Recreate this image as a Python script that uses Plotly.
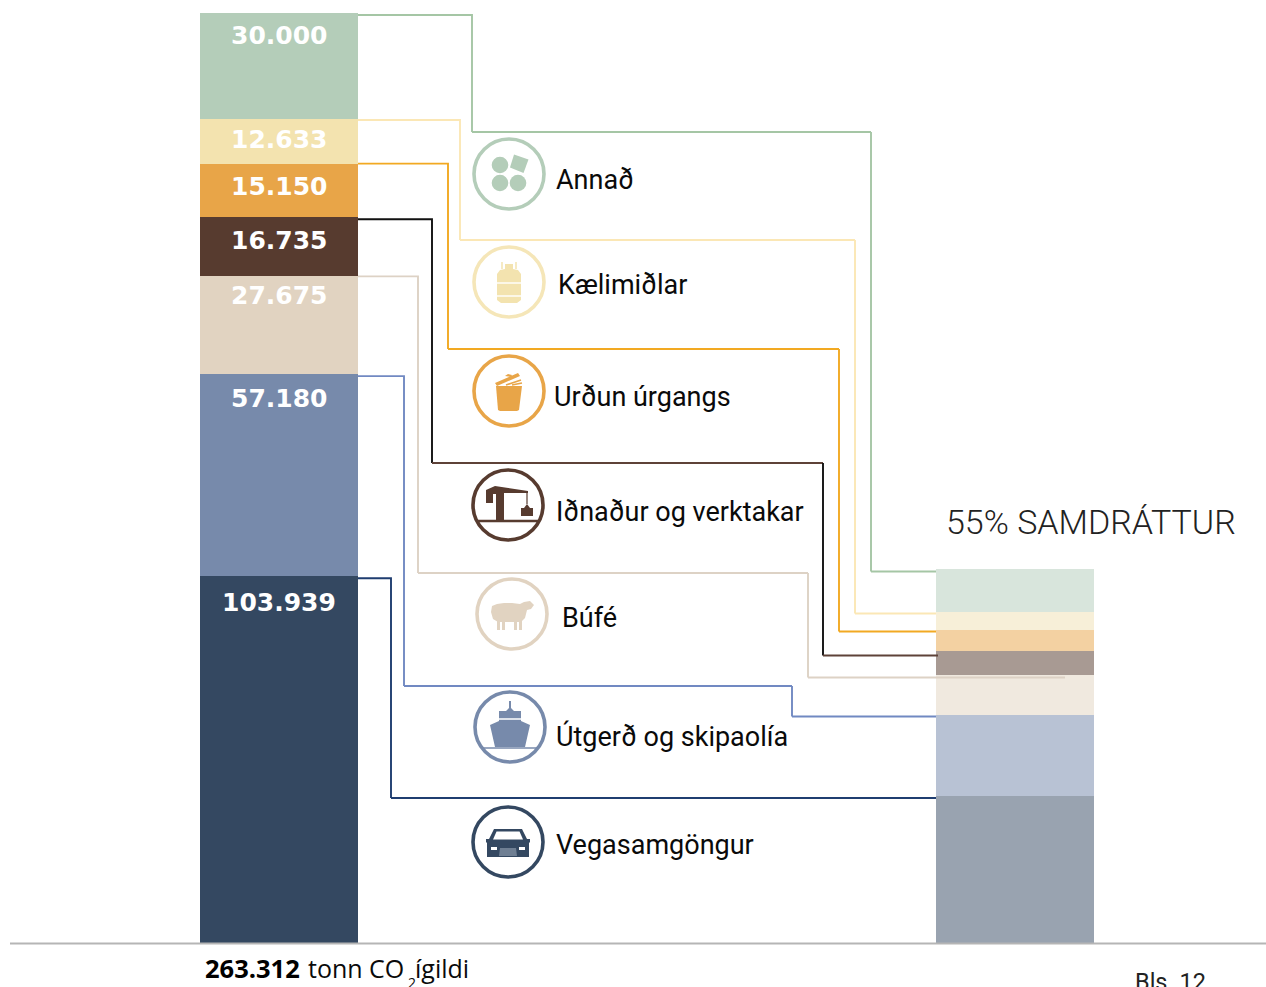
import plotly.graph_objects as go

# ---- data (tonn CO2 ígildi), bottom to top of the stack ----
categories = ["Vegasamgöngur", "Útgerð og skipaolía", "Búfé", "Iðnaður og verktakar",
              "Urðun úrgangs", "Kælimiðlar", "Annað"]
values_now = [103939, 57180, 27675, 16735, 15150, 12633, 30000]
values_target = [41600, 23200, 11050, 6800, 6200, 5100, 11900]
total_label = "263.312"
target_label = "55% SAMDRÁTTUR"

# ---- styles ----
colors_now = ["#344861", "#778AAB", "#E1D3C1", "#573B2F", "#E8A548", "#F3E3AF", "#B4CDB9"]
colors_target = ["#99A3B0", "#B8C2D4", "#F0E9DF", "#A89A93", "#F3D1A2", "#F7EFD8", "#D8E5DC"]
line_colors = ["#1F3D70", "#7189C2", "#DDD2C5", "#5E4238", "#F2A922", "#FBE7B5", "#A5C6A5"]
line_colors2 = ["#1F3D70", "#7189C2", "#DDD2C5", "#111111", "#F2A922", "#FBE7B5", "#A5C6A5"]
label_drop = [26, 24, 19, 23, 23, 20, 22]
start_drop = [2, 2, 0, 2, 0, 1, 2]
end_drop = [2, 2, 2, 4, 2, 2, 2]
route_x1 = [391, 404, 418, 432, 448, 460, 472]
route_y = [798, 686, 573, 463, 349, 240, 132]
route_x2 = [None, 792, 808, 823, 839, 855, 871]
end_x = [936, 936, 1065, 938, 936, 936, 936]
label_x = [554, 554, 560, 554, 552, 556, 554]
label_y = [845, 736, 618, 512, 397, 285, 180]
icon_cx = [508, 510, 512, 508, 509, 509, 509]
icon_cy = [842, 727, 614, 505, 391, 282, 174]

W, H = 1266, 987
BASE = 943.5
SCALE = 930.5 / sum(values_now)          # px per tonne
BAR_L, BAR_R, BAR_W = 279, 1015, 158

def ypx(v):
    return BASE - v * SCALE

fig = go.Figure()
for i, c in enumerate(categories):
    fig.add_trace(go.Bar(x=[0, 1], y=[values_now[i], values_target[i]], name=c,
                         marker=dict(color=[colors_now[i], colors_target[i]], line_width=0),
                         width=BAR_W / (BAR_R - BAR_L), showlegend=False, hoverinfo="x+y"))

# connectors, on an overlay pixel axis
for i in range(7):
    y0 = ypx(sum(values_now[:i + 1])) + start_drop[i]
    y1 = ypx(sum(values_target[:i + 1])) + end_drop[i]
    x1, ym, x2 = route_x1[i], route_y[i], route_x2[i]
    if x2 is None:
        parts = [([358, x1, x1], [y0, y0, ym], line_colors2[i]),
                 ([x1, end_x[i]], [ym, ym], line_colors[i])]
    else:
        parts = [([358, x1, x1], [y0, y0, ym], line_colors2[i]),
                 ([x1, x2], [ym, ym], line_colors[i]),
                 ([x2, x2], [ym, y1], line_colors2[i]),
                 ([x2, end_x[i]], [y1, y1], line_colors[i])]
    for px_, py_, col in parts:
        fig.add_trace(go.Scatter(x=px_, y=py_, xaxis="x2", yaxis="y2", mode="lines",
                                 line=dict(color=col, width=1.9), showlegend=False, hoverinfo="skip"))

shapes = []
def sh(**k):
    k.setdefault("xref", "x2"); k.setdefault("yref", "y2")
    k.setdefault("line", dict(width=0))
    k.setdefault("layer", "above")
    shapes.append(k)

sh(type="line", x0=10, x1=W, y0=BASE, y1=BASE, line=dict(color="#B5B5B5", width=2))

def ring(cx, cy, col, r=35):
    sh(type="circle", x0=cx - r, x1=cx + r, y0=cy - r, y1=cy + r, line=dict(color=col, width=3.6), fillcolor="rgba(0,0,0,0)")
def disc(cx, cy, r, col):
    sh(type="circle", x0=cx - r, x1=cx + r, y0=cy - r, y1=cy + r, fillcolor=col)
def poly(cx, cy, pts, col):
    d = "M" + " L".join(f"{cx + a:.1f},{cy + b:.1f}" for a, b in pts) + " Z"
    sh(type="path", path=d, fillcolor=col)
def seg(cx, cy, a, b, col, w=1.5):
    sh(type="line", x0=cx + a[0], y0=cy + a[1], x1=cx + b[0], y1=cy + b[1], line=dict(color=col, width=w))

for i in range(7):
    ring(icon_cx[i], icon_cy[i], colors_now[i] if i != 5 else "#F5E6B8")

# Vegasamgöngur: car
c = colors_now[0]; cx, cy = icon_cx[0], icon_cy[0]
poly(cx, cy, [(-14, -13), (14, -13), (19, -3), (22, -3), (22, 0), (21, 1), (21, 15), (-21, 15), (-21, 1), (-22, 0), (-22, -3), (-19, -3)], c)
poly(cx, cy, [(-11.5, -10.5), (11.5, -10.5), (15, -2.5), (-15, -2.5)], "#FFFFFF")
poly(cx, cy, [(-17, 5), (-11, 5), (-11, 8), (-17, 8)], "#FFFFFF")
poly(cx, cy, [(11, 5), (17, 5), (17, 8), (11, 8)], "#FFFFFF")
poly(cx, cy, [(-8, 6), (8, 6), (9, 14), (-9, 14)], "#6F7F93")
# Útgerð: ship
c = colors_now[1]; cx, cy = icon_cx[1], icon_cy[1]
poly(cx, cy, [(-20, -2), (-11, -6), (-11, -16), (-4, -16), (-1, -19), (-1, -26), (1, -26), (1, -19), (4, -16), (11, -16), (11, -6), (20, -2), (15, 20), (-15, 20)], c)
seg(cx, cy, (-13, -8), (13, -8), "#FFFFFF", 1.5)
seg(cx, cy, (-28, 21), (28, 21), c, 1.5)
# Búfé: sheep
c = colors_now[2]; cx, cy = icon_cx[2], icon_cy[2]
poly(cx, cy, [(-20, -8), (-15, -10), (-8, -11), (0, -11), (8, -10), (12, -12), (18, -13), (22, -9), (19, -5), (15, -4), (13, 4), (9, 8), (-14, 8), (-19, 5), (-21, -2)], c)
for lx in (-15, -10, 2, 7):
    poly(cx, cy, [(lx, 7), (lx + 3, 7), (lx + 3, 16), (lx, 16)], c)
# Iðnaður: crane
c = colors_now[3]; cx, cy = icon_cx[3], icon_cy[3]
poly(cx, cy, [(-22, -15), (-13, -19), (20, -14), (20, -12), (-4, -12), (-4, 16), (-12, 16), (-12, -11), (-15, -11), (-15, -2), (-22, -2)], c)
seg(cx, cy, (19, -13), (19, -1), c, 1.2)
poly(cx, cy, [(13, 3), (16, 3), (19, -1), (22, 3), (25, 3), (25, 11), (13, 11)], c)
seg(cx, cy, (-31, 16), (31, 16), c, 2.4)
# Urðun: bin
c = colors_now[4]; cx, cy = icon_cx[4], icon_cy[4]
poly(cx, cy, [(-13, -5), (13, -5), (10, 19), (8, 20), (-9, 20), (-11, 19)], c)
poly(cx, cy, [(-14, -8), (9, -18), (11, -15), (-12, -5)], c)
poly(cx, cy, [(-4, -15), (-1, -17), (3, -16), (2, -14)], c)
seg(cx, cy, (-3, -6), (12, -11), c, 1.6)
seg(cx, cy, (3, -6), (13, -8), c, 1.6)
# Kælimiðlar: gas bottle
c = colors_now[5]; cx, cy = icon_cx[5], icon_cy[5]
poly(cx, cy, [(-4, -18), (4, -18), (4, -13), (9, -12), (12, -8), (12, 18), (8, 21), (-8, 21), (-12, 18), (-12, -8), (-9, -12), (-4, -13)], c)
seg(cx, cy, (-12, 1), (12, 1), "#FFFFFF", 1.4)
seg(cx, cy, (-12, 14), (12, 14), "#FFFFFF", 1.4)
seg(cx, cy, (-7, -20), (-7, -13), c, 1.5)
seg(cx, cy, (7, -20), (7, -13), c, 1.5)
# Annað: shapes
c = colors_now[6]; cx, cy = icon_cx[6], icon_cy[6]
disc(cx - 9, cy - 9, 8.3, c); disc(cx - 9, cy + 9, 8.3, c); disc(cx + 9, cy + 9, 8.3, c)
poly(cx, cy, [(5, -19.5), (19.5, -14.5), (14.5, -1), (1, -6.5)], c)

ann = []
def text(x, y, s, size, family="Roboto", color="#0A0A0A", anchor="left", **k):
    ann.append(dict(x=x, y=y, xref="x2", yref="y2", text=s, showarrow=False, xanchor=anchor, yanchor="middle",
                    font=dict(family=family, size=size, color=color, **k)))

# value labels are placed at the top of each stacked segment
for i, v in enumerate(values_now):
    top = sum(values_now[:i + 1])
    ann.append(dict(x=0, y=top, xref="x", yref="y", yshift=-label_drop[i], text=f"{v:,}".replace(",", "."),
                    showarrow=False, xanchor="center", yanchor="middle",
                    font=dict(family="DejaVu Sans", size=25, color="#FFFFFF", weight=700)))
for i, c in enumerate(categories):
    text(label_x[i], label_y[i], c, 27, family="Roboto")
text(944, 522, target_label, 34, weight=300, color="#222222")
text(203, 968, f"<b>{total_label}</b>", 25.5, family="Open Sans", color="#000000")
text(306, 968, "tonn CO", 25, family="Open Sans")
text(406, 982, "2", 14, family="Open Sans")
text(413, 968, "ígildi", 25, family="Open Sans")
text(1133, 982, "Bls. 12", 23.5, family="Roboto", color="#222222")

unit = BAR_R - BAR_L
fig.update_layout(
    width=W, height=H, margin=dict(l=0, r=0, t=0, b=0), barmode="stack", bargap=0,
    paper_bgcolor="#FFFFFF", plot_bgcolor="#FFFFFF", showlegend=False,
    shapes=shapes, annotations=ann,
    xaxis=dict(range=[-BAR_L / unit, (W - BAR_L) / unit], visible=False, fixedrange=True),
    yaxis=dict(range=[(BASE - H) / SCALE, BASE / SCALE], visible=False, fixedrange=True),
    xaxis2=dict(range=[0, W], overlaying="x", visible=False, fixedrange=True),
    yaxis2=dict(range=[H, 0], overlaying="y", visible=False, fixedrange=True),
)
fig.write_html("out.html", config={"displayModeBar": False},
               post_script="document.body.style.margin='0';document.documentElement.style.overflow='hidden';")
